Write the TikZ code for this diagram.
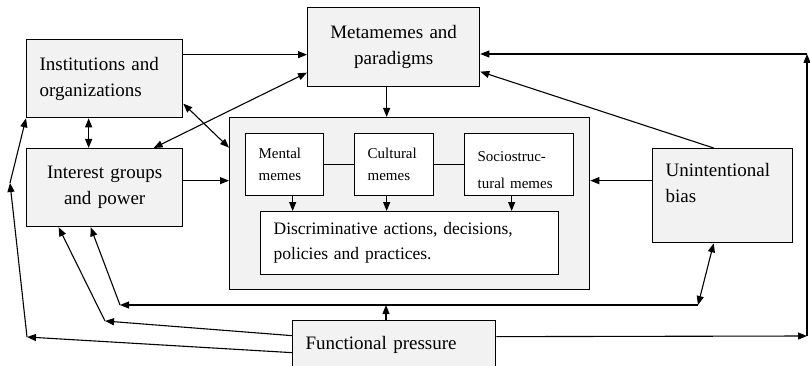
\documentclass[tikz,border=0pt]{standalone}
\usepackage{fontspec}
\setmainfont{Liberation Serif}
\usetikzlibrary{arrows.meta, positioning, calc}
\definecolor{BoxGray}{RGB}{242,242,242}

\begin{document}
\begin{tikzpicture}[x=1pt,y=-1pt,
    bx/.style={draw,line width=1.3pt,fill=BoxGray,anchor=north west,
               inner ysep=0pt,inner xsep=13pt,font=\fontsize{19}{26}\selectfont},
    sm/.style={draw,line width=1.3pt,fill=white,anchor=north west,
               inner ysep=0pt,inner xsep=13pt,align=left,
               font=\fontsize{15}{22}\selectfont},
    arr/.style={-{Triangle[length=9pt,width=7pt]},line width=1.1pt},
    arr2/.style={{Triangle[length=9pt,width=7pt]}-{Triangle[length=9pt,width=7pt]},
                 line width=1.1pt}
  ]
  \useasboundingbox (0,0) rectangle (810,366);

  % outer boxes
  \node[bx,minimum width=156pt,minimum height=78pt,text width=130pt,align=left]
    (inst) at (26,39) {Institutions and\\organizations};
  \node[bx,minimum width=156pt,minimum height=78pt,text width=130pt,align=center]
    (inter) at (26,148) {Interest groups\\and power};
  \node[bx,minimum width=172pt,minimum height=79pt,text width=146pt,align=center]
    (meta) at (307,7) {Metamemes and\\paradigms};
  \node[bx,minimum width=360pt,minimum height=172pt] (big) at (229,117) {};
  \node[bx,minimum width=140pt,minimum height=94pt,text width=114pt,align=left,
        text height=28pt,text depth=66pt]
    (unint) at (652,148) {Unintentional\\bias};
  \node[bx,minimum width=203pt,minimum height=48pt,text width=177pt,align=left]
    (fp) at (292,320) {Functional pressure};

  % memes inside
  \node[sm,minimum width=78pt,minimum height=62pt,text width=52pt]
    (mental) at (245,133) {Mental\\memes};
  \node[sm,minimum width=79pt,minimum height=62pt,text width=53pt]
    (cult) at (354,133) {Cultural\\memes};
  \node[sm,minimum width=109pt,minimum height=62pt,text width=83pt,
        text height=28pt,text depth=34pt,font=\fontsize{15}{27}\selectfont]
    (socio) at (464,133) {Sociostruc-\\tural memes};
  \node[sm,minimum width=298pt,minimum height=63pt,text width=272pt,
        font=\fontsize{17.5}{25}\selectfont]
    (disc) at (260,211) {Discriminative actions, decisions,\\policies and practices.};

  \draw[line width=1.1pt] (mental) -- (cult) (cult) -- (socio);
  \draw[arr] ([xshift=8pt]mental.south) coordinate (p) -- (p |- disc.north);
  \draw[arr] ([xshift=-7.5pt]cult.south) coordinate (p) -- (p |- disc.north);
  \draw[arr] ([xshift=-7.5pt]socio.south) coordinate (p) -- (p |- disc.north);

  % bends
  \coordinate (cR1) at (807,336);
  \coordinate (cR2) at (807,54);
  \coordinate (hubL) at (120,305);
  \coordinate (hubM) at (386,305);
  \coordinate (hubR) at (698,305);
  \coordinate (l1) at (105,321);
  \coordinate (l2) at (27,337);
  \coordinate (l3) at (10,183);

  \draw[arr] ([yshift=24pt]inst.east) coordinate (p) -- (p -| meta.west);
  \draw[arr2] ([xshift=-16pt]inst.south) -- ([xshift=-16pt]inter.north);
  \draw[arr2] ([yshift=-25pt]inst.east) -- ([yshift=56pt]big.west);
  \draw[arr2] ([xshift=49pt]inter.north) -- ([yshift=-25.5pt]meta.west);
  \draw[arr] ([yshift=7pt]inter.east) coordinate (p) -- (p -| big.west);
  \draw[arr] ([xshift=-7pt]meta.south) coordinate (p) -- (p |- big.north);
  \draw[arr] ([xshift=-9pt]unint.north) -- ([yshift=-24.5pt]meta.east);
  \draw[arr] ([yshift=15pt]unint.west) coordinate (p) -- (p -| big.east);

  \draw[arr] ([yshift=8pt]fp.east) -- (cR1);
  \draw[arr] (cR1) -- (cR2);
  \draw[arr] (cR2) -- (cR2 -| meta.east);

  \draw[arr] (hubM |- fp.north) -- (hubM);
  \draw[arr] (hubR) -- (hubL);
  \draw[arr] (hubL) -- ([xshift=-14pt]inter.south);
  \draw[arr2] (hubR) -- ([xshift=-9pt]unint.south);

  \draw[arr] ([yshift=9pt]fp.west) -- (l1);
  \draw[arr] (l1) -- ([xshift=-46pt]inter.south);
  \draw[arr] ([yshift=-8pt]fp.west) -- (l2);
  \draw[arr] (l2) -- (l3);
  \draw[arr] (l3) -- (inst.south west);
\end{tikzpicture}
\end{document}
